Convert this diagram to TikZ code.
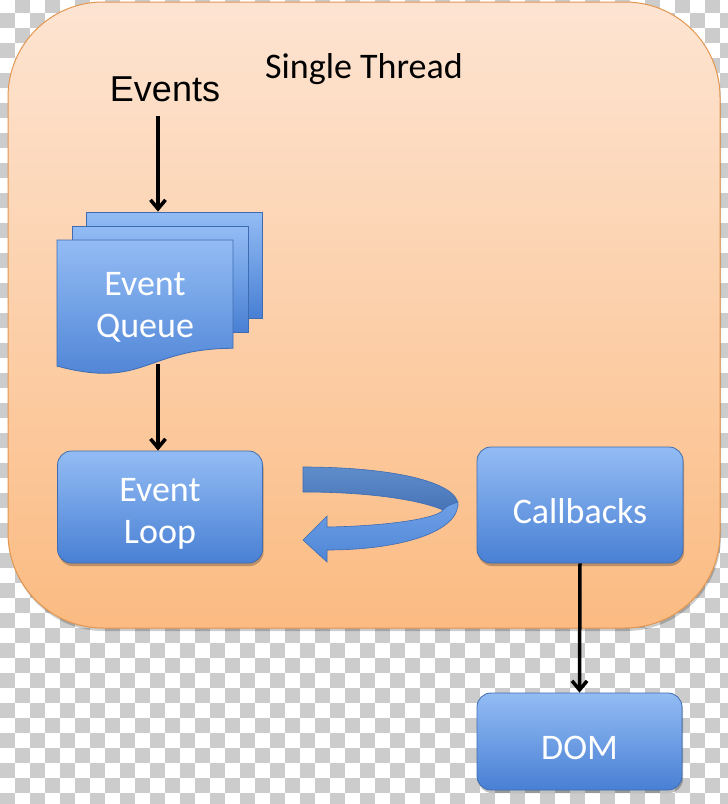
\documentclass[tikz,border=0pt]{standalone}
\usepackage{fontspec}
\setmainfont{Carlito}
\newfontfamily\arialf{Liberation Sans}
\usetikzlibrary{arrows.meta,shadows}
\definecolor{chk}{HTML}{CCCCCC}
\definecolor{peachtop}{HTML}{FDE4D2}
\definecolor{peachbot}{HTML}{FBBB82}
\definecolor{peachedge}{HTML}{E3964F}
\definecolor{boxtop}{HTML}{93BCF4}
\definecolor{boxbot}{HTML}{4980D4}
\definecolor{boxedge}{HTML}{3D6CB2}
\definecolor{bandtop}{HTML}{5F8DCC}
\definecolor{bandbot}{HTML}{4674B6}
\definecolor{fronttop}{HTML}{6FA0E6}
\definecolor{frontbot}{HTML}{4E86D6}
\newcommand{\upstrut}{\rule{0pt}{37pt}}
\begin{document}
\begin{tikzpicture}[x=1pt,y=-1pt,
  bigfont/.style={font=\fontsize{36}{42}\selectfont},
  box/.style={draw=boxedge, line width=0.8pt, rounded corners=14pt,
    top color=boxtop, bottom color=boxbot, text=white, bigfont, align=center,
    minimum width=205pt, minimum height=112pt, inner sep=0pt,
    drop shadow={shadow xshift=1pt, shadow yshift=-3pt, opacity=0.25, fill=black}},
  page/.style={draw=boxedge, line width=0.8pt, top color=boxtop, bottom color=boxbot,
    minimum width=176pt, minimum height=106pt, inner sep=0pt},
  arr/.style={line width=3.5pt, -{Straight Barb[length=9pt,width=15pt]}},
  container/.style={draw=peachedge, line width=1pt, rounded corners=95pt,
    top color=peachtop, bottom color=peachbot, minimum width=712pt, minimum height=626pt,
    drop shadow={shadow xshift=1pt, shadow yshift=-3pt, opacity=0.2, fill=black}},
  band/.style={draw=boxedge, line width=0.6pt, top color=bandtop, bottom color=bandbot},
  front/.style={draw=boxedge, line width=0.6pt, top color=fronttop, bottom color=frontbot}
]
\useasboundingbox (0,0) rectangle (728,804);
\clip (0,0) rectangle (728,804);
% transparency checkerboard
\fill[white] (0,0) rectangle (728,804);
\foreach \j in {-1,...,53}{
  \foreach \i in {0,...,48}{
    \pgfmathtruncatemacro\p{mod(\i+\j+2,2)}
    \ifnum\p=0 \fill[chk] (\i*15,13+\j*15) rectangle ++(15,15); \fi
  }
}
% container
\node[container] (main) at (364,315) {};
\node[anchor=base, bigfont] (title) at (364,78) {Single Thread};
\node[anchor=base, font=\arialf\fontsize{36}{42}\selectfont] (events) at (165,101) {Events};
\coordinate (ax) at (158,0);
% event queue pages
\node[page] (q3) at (174,265) {};
\node[page] (q2) at (160,279) {};
\path[draw=boxedge, line width=0.8pt, top color=boxtop, bottom color=boxbot]
  (57,240) -- (233,240) -- (233,348.3) .. controls (145,348.3) and (145,389.5) .. (57,366.1) -- cycle;
\node[text=white, bigfont, align=center] (qtxt) at (145,307) {Event\\Queue};
\coordinate (q1b) at (158,364);
% boxes
\node[box] (loop) at (160,507) {\upstrut Event\\Loop};
\node[box, minimum width=206pt, minimum height=116pt] (cb) at (580,505) {\upstrut Callbacks};
\node[box, minimum height=97pt] (dom) at (579.5,741.5) {\upstrut DOM};
% connectors
\draw[arr, shorten <=15pt] (events.base -| ax) -- (q3.north -| ax);
\draw[arr] (q1b) -- (loop.north -| ax);
\draw[arr] (cb.south) -- (dom.north);
% loop arrow
\path[band] (303,467) .. controls (392,467) and (458,482) .. (458,505)
  -- (443,510) .. controls (420,500) and (370,492) .. (303,492) -- cycle;
\path[front] (458,502) .. controls (460,532) and (400,550) .. (327,550)
  -- (327,562) -- (303,540) -- (327,516) -- (327,527)
  .. controls (390,526) and (438,518) .. (443,510)
  .. controls (446,506) and (452,504) .. (458,502) -- cycle;
\end{tikzpicture}
\end{document}
